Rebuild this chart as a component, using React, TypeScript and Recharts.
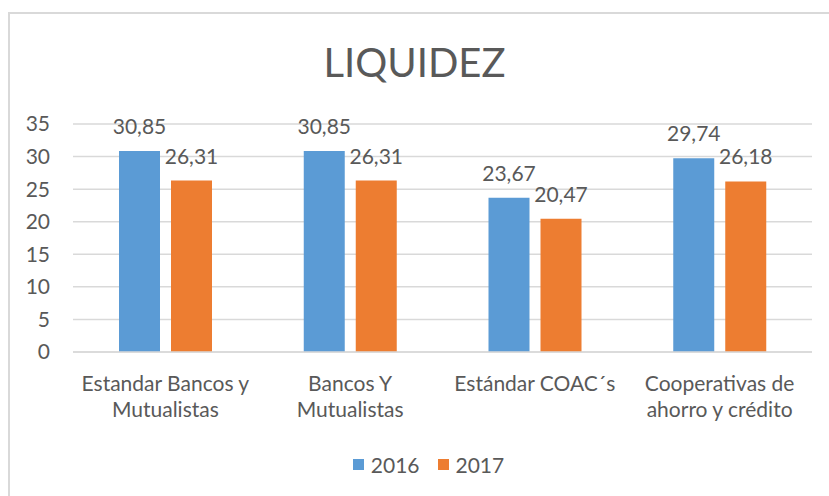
import { BarChart, Bar, XAxis, YAxis, CartesianGrid, LabelList } from 'recharts'

const categories = ['Estandar Bancos y Mutualistas', 'Bancos Y Mutualistas', 'Estándar COAC´s', 'Cooperativas de ahorro y crédito']
const categoryLines = [
  ['Estandar Bancos y', 'Mutualistas'],
  ['Bancos Y', 'Mutualistas'],
  ['Estándar COAC´s'],
  ['Cooperativas de', 'ahorro y crédito'],
]
const values2016 = [30.85, 30.85, 23.67, 29.74]
const values2017 = [26.31, 26.31, 20.47, 26.18]
const yTicks = [0, 5, 10, 15, 20, 25, 30, 35]

const data = categories.map((name, i) => ({ name, y2016: values2016[i], y2017: values2017[i] }))

const FONT = 'Lato, "Open Sans", sans-serif'
const TEXT = '#595959'
const BLUE = '#5B9BD5'
const ORANGE = '#ED7D31'
const FS = 21

const fmt = (v: any) => Number(v).toFixed(2).replace('.', ',')

function CategoryTick({ x, y, payload }: any) {
  const lines = categoryLines[payload.index] || [payload.value]
  return (
    <text x={x} y={y} textAnchor="middle" fill={TEXT} fontSize={FS} fontFamily={FONT}>
      {lines.map((l, i) => (
        <tspan key={i} x={x} dy={i === 0 ? 31 : 26}>{l}</tspan>
      ))}
    </text>
  )
}

function LegendBox() {
  const items = [
    { label: '2016', color: BLUE },
    { label: '2017', color: ORANGE },
  ]
  return (
    <div style={{ position: 'absolute', left: 14, top: 452, width: 829, display: 'flex', justifyContent: 'center', gap: 18, fontFamily: FONT, fontSize: FS, color: TEXT }}>
      {items.map((it) => (
        <div key={it.label} style={{ display: 'flex', alignItems: 'center', gap: 7 }}>
          <span style={{ width: 11, height: 11, background: it.color, display: 'inline-block' }} />
          <span>{it.label}</span>
        </div>
      ))}
    </div>
  )
}

export default function App() {
  return (
    <div style={{ position: 'absolute', left: 0, top: 0, width: 829, height: 496, overflow: 'hidden', background: '#fff' }}>
      <div style={{ position: 'absolute', left: 8, top: 12, width: 900, height: 600, border: '2px solid #d9d9d9' }} />
      <div style={{ position: 'absolute', left: 0, top: 38, width: 829, textAlign: 'center', fontFamily: FONT, fontSize: 40, color: TEXT }}>
        LIQUIDEZ
      </div>
      <div style={{ position: 'absolute', left: 0, top: 0 }}>
        <BarChart width={829} height={496} data={data} margin={{ top: 124, right: 17, bottom: 114, left: 13 }} barGap={11} barSize={41}>
          <CartesianGrid vertical={false} stroke="#d9d9d9" strokeWidth={1.5} />
          <XAxis dataKey="name" axisLine={{ stroke: '#d9d9d9', strokeWidth: 1.5 }} tickLine={false} interval={0} tick={<CategoryTick />} />
          <YAxis domain={[0, 35]} ticks={yTicks} interval={0} width={60} axisLine={false} tickLine={false} tickMargin={17}
            tick={{ fill: TEXT, fontSize: FS, fontFamily: FONT }} />
          <Bar dataKey="y2016" name="2016" fill={BLUE} isAnimationActive={false}>
            <LabelList dataKey="y2016" position="top" offset={17} formatter={fmt} fill={TEXT} fontSize={FS} fontFamily={FONT} />
          </Bar>
          <Bar dataKey="y2017" name="2017" fill={ORANGE} isAnimationActive={false}>
            <LabelList dataKey="y2017" position="top" offset={17} formatter={fmt} fill={TEXT} fontSize={FS} fontFamily={FONT} />
          </Bar>
        </BarChart>
      </div>
      <LegendBox />
    </div>
  )
}
